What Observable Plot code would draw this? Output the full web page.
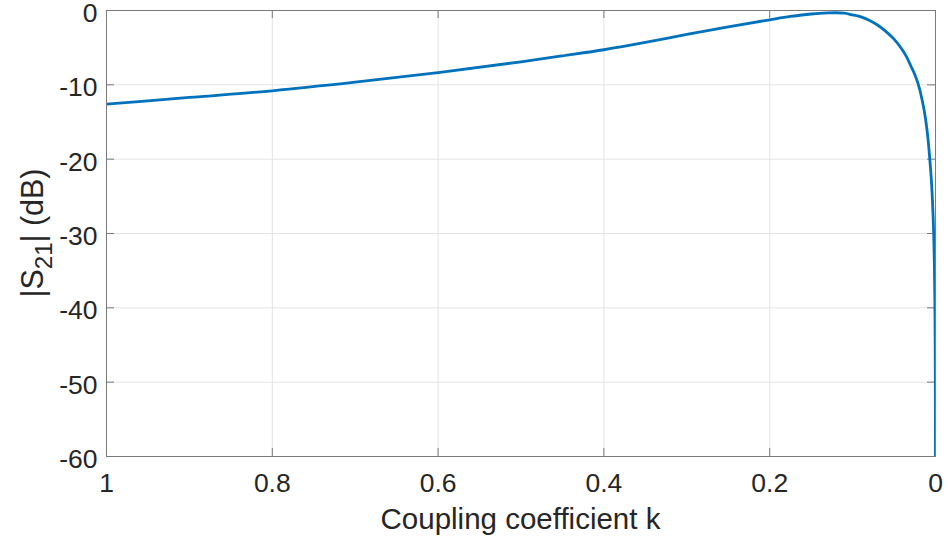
<!DOCTYPE html>
<html>
<head>
<meta charset="utf-8">
<script src="https://cdn.jsdelivr.net/npm/d3@7"></script>
<script src="https://cdn.jsdelivr.net/npm/@observablehq/plot@0.6"></script>
<style>
  html, body { margin: 0; padding: 0; background: #fff; }
  #chart { width: 948px; height: 542px; }
  svg { font-family: "Liberation Sans", Arial, Helvetica, sans-serif; }
</style>
</head>
<body>
<div id="chart"></div>
<script>
// Coupling coefficient k (ordered from 1 down to 0)
const kValues = [1.0, 0.9, 0.8, 0.7, 0.6, 0.5, 0.45, 0.4, 0.35, 0.3, 0.25, 0.2, 0.175, 0.15, 0.13, 0.12, 0.11, 0.1, 0.09, 0.08, 0.07, 0.06, 0.05, 0.042, 0.035, 0.03, 0.025, 0.021, 0.016, 0.012, 0.009, 0.0069, 0.005, 0.0035, 0.0022, 0.0014, 0.0009, 0.0006, 0.0004, 0.00025, 0.00015, 0.0001, 0.00007];
// |S21| in dB
const s21Values = [-12.6, -11.7, -10.8, -9.65, -8.35, -6.9, -6.1, -5.28, -4.3, -3.22, -2.2, -1.25, -0.8, -0.47, -0.33, -0.3, -0.36, -0.6, -0.85, -1.3, -1.95, -2.8, -3.85, -4.97, -6.2, -7.4, -8.6, -9.85, -12.1, -14.6, -17.3, -20, -22.8, -26, -30, -34, -38, -41.5, -45, -49, -53.5, -57, -60];
const xTicks = [0, 0.2, 0.4, 0.6, 0.8, 1];
const xTickLabels = ["0", "0.2", "0.4", "0.6", "0.8", "1"];
const yTicks = [-60, -50, -40, -30, -20, -10, 0];
const yTickLabels = ["-60", "-50", "-40", "-30", "-20", "-10", "0"];

const data = kValues.map((k, i) => ({k, s: s21Values[i]}));

const W = 948, H = 542;
const mL = 106, mR = 13, mT = 10, mB = 86;
const pw = W - mL - mR, ph = H - mT - mB;
const tickLen = 8;
const frameColor = "#7a7a7a";
const textColor = "#262626";

const chart = Plot.plot({
  width: W,
  height: H,
  marginLeft: mL,
  marginRight: mR,
  marginTop: mT,
  marginBottom: mB,
  style: {fontFamily: '"Liberation Sans", Arial, Helvetica, sans-serif', background: "#fff"},
  x: {domain: [1, 0], range: [mL, W - mR]},
  y: {domain: [-60, 0]},
  marks: [
    Plot.gridX(xTicks, {stroke: "#e3e3e3", strokeOpacity: 1}),
    Plot.gridY(yTicks, {stroke: "#e3e3e3", strokeOpacity: 1}),
    // inward ticks
    Plot.tickY(yTicks, {y: d => d, stroke: frameColor, insetRight: pw - tickLen}),
    Plot.tickY(yTicks, {y: d => d, stroke: frameColor, insetLeft: pw - tickLen}),
    Plot.tickX(xTicks, {x: d => d, stroke: frameColor, insetTop: ph - tickLen}),
    Plot.tickX(xTicks, {x: d => d, stroke: frameColor, insetBottom: ph - tickLen}),
    Plot.axisX(xTicks, {
      anchor: "bottom", tickSize: 0, tickPadding: 17, fontSize: 26.5, fill: textColor,
      label: null, tickFormat: (d) => xTickLabels[xTicks.indexOf(d)]
    }),
    Plot.axisY(yTicks, {
      anchor: "left", tickSize: 0, tickPadding: 9, fontSize: 26.5, fill: textColor, dy: 3,
      label: null, tickFormat: (d) => yTickLabels[yTicks.indexOf(d)]
    }),
    Plot.line(data, {x: "k", y: "s", stroke: "#0072BD", strokeWidth: 2.8, curve: "monotone-x", clip: true}),
    Plot.frame({stroke: frameColor})
  ]
});

document.getElementById("chart").appendChild(chart);

const svg = d3.select(chart);
// x label
svg.append("text")
  .attr("x", mL + pw / 2)
  .attr("y", 529)
  .attr("text-anchor", "middle")
  .attr("fill", textColor)
  .attr("font-size", 29.5)
  .text("Coupling coefficient k");

// y label with subscript
const yl = svg.append("text")
  .attr("transform", `translate(43,${mT + ph / 2}) rotate(-90)`)
  .attr("text-anchor", "middle")
  .attr("fill", textColor)
  .attr("font-size", 30.5);
yl.append("tspan").text("|S");
yl.append("tspan").attr("font-size", 24).attr("dy", 9).text("21");
yl.append("tspan").attr("dy", -9).text("| (dB)");
</script>
</body>
</html>
